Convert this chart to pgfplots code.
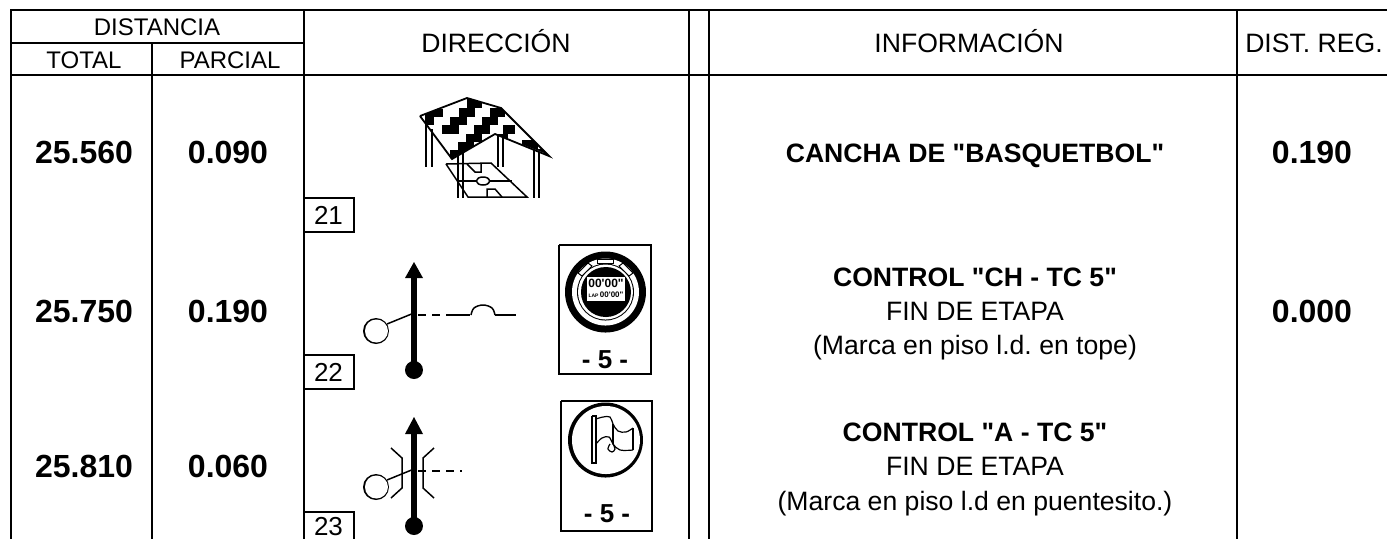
\documentclass[border=0pt]{standalone}
\usepackage{pgfplots}
\pgfplotsset{compat=1.18}
\usepackage{fontspec}
\setmainfont{Liberation Sans}[Ligatures=TeXOff]
\frenchspacing
\newcommand{\Ln}[2]{\addplot[black,line width=#1,line cap=butt] coordinates {#2};}
\newcommand{\Sm}[2]{\addplot[black,line width=#1,smooth,tension=0.6] coordinates {#2};}
\newcommand{\Fl}[1]{\addplot[fill=black,draw=none] coordinates {#1} -- cycle;}
\newcommand{\Wh}[1]{\addplot[fill=white,draw=none] coordinates {#1} -- cycle;}
\newcommand{\Bx}[4]{\addplot[fill=black,draw=none] coordinates {(#1,#2)(#3,#2)(#3,#4)(#1,#4)} -- cycle;}
% disc: x, integer y, diameter, colour
\newcommand{\Dk}[4]{\addplot[#4,line width=#3pt,line cap=round] coordinates {(#1,#2)(#1,#2.02)};}
\newcommand{\Tx}[4]{\node[anchor=base,inner sep=0pt] at (axis cs:#1,#2) {\fontsize{#3}{#3}\selectfont #4};}
\begin{document}
\begin{tikzpicture}
\path[use as bounding box] (0pt,0pt) rectangle (1387pt,539pt);
\begin{axis}[
  at={(0pt,0pt)},anchor=south west,
  scale only axis,width=1387pt,height=539pt,
  xmin=0,xmax=1387,ymin=0,ymax=539,y dir=reverse,
  hide axis,clip=true]
% table rules
\Ln{2}{(10,10)(1387,10)}
\Ln{1.8}{(11,43)(304,43)}
\Ln{2}{(10,75)(1387,75)}
\Ln{2}{(11,9)(11,539)}
\Ln{2}{(152,43)(152,539)}
\Ln{2}{(304,9)(304,539)}
\Ln{2}{(689,9)(689,539)}
\Ln{2}{(709,9)(709,539)}
\Ln{2}{(1237,9)(1237,539)}
% number boxes
\Ln{1.8}{(304,198)(354,198)(354,232)(304,232)}
\Ln{1.8}{(304,355)(354,355)(354,389)(304,389)}
\Ln{1.8}{(304,512)(354,512)(354,539)}
% roof blocks
\Bx{425}{109}{443}{117}
\Bx{425}{117}{434}{125}
\Bx{467}{98}{482}{108}
\Bx{459}{108}{475}{117}
\Bx{450}{117}{467}{125}
\Bx{442}{125}{459}{134}
\Bx{490}{108}{505}{117}
\Bx{482}{117}{498}{125}
\Bx{474}{125}{490}{134}
\Bx{466}{134}{482}{142}
\Bx{458}{142}{474}{150}
\Bx{450}{150}{466}{159}
\Bx{503}{125}{515}{134}
\Bx{497}{134}{508}{142}
\Bx{522}{140}{538}{149}
\Bx{533}{149}{549}{156}
% mask around roof
\Wh{(420,116)(415,116)(415,92)(556,92)(556,162)(415,162)(415,116)(420,116)(451,159)(495,134)(549,155)(501,108)(467,98)}
\Ln{1.8}{(420,116)(467,98)(501,108)(549,156)(495,134)(452,159)(420,116)}
% posts
\Ln{1.6}{(426,123)(426,167)}\Ln{1.6}{(432,129)(432,167)}
\Ln{1.6}{(458,155)(458,198)}\Ln{1.6}{(463,153)(463,198)}
\Ln{1.6}{(498,135)(498,167)}\Ln{1.6}{(503,137)(503,167)}
\Ln{1.6}{(534,150)(534,198)}\Ln{1.6}{(539,152)(539,198)}
% court
\Ln{1.5}{(446,164)(491,163)(527,197)(468,197)(446,164)}
\Ln{1.5}{(458,181)(476,181)}\Ln{1.5}{(490,181)(512,181)}
\Sm{1.5}{(476.5,181)(478.5,178)(483,177)(487.5,178)(489.5,181)(487.5,184)(483,185)(478.5,184)(476.5,181)}
\Ln{1.5}{(467,164)(475,172)(481,172)(481,163)}
\Ln{1.5}{(487,197)(487,189)(495,189)(502,197)}
% row 22 direction
\Ln{6.5}{(414,270)(414,370)}
\Fl{(414,262)(405,278)(423,278)}
\Dk{414}{370}{18}{black}
\Dk{376}{331}{26}{black}
\Dk{376}{331}{23}{white}
\Ln{1.5}{(387,324)(414,313)}
\addplot[black,line width=1.5,dash pattern=on 8pt off 6pt] coordinates {(418,315)(450,315)};
\Ln{1.5}{(450,315)(470,315)}
\Sm{1.5}{(471,315)(474,308)(483,305)(492,308)(495,315)}
\Ln{1.5}{(495,315)(516,315)}
% row 22 stopwatch
\Ln{1.8}{(559,245)(651,245)(651,374)(559,374)(559,245)}
\Dk{605.5}{292}{81}{black}
\Dk{605.5}{292}{67}{white}
\Dk{605.5}{292}{57}{black}
\Dk{605.5}{292}{55}{white}
\Dk{605.5}{292}{50}{black}
\Wh{(587,277)(625,277)(625,301)(587,301)}
\addplot[fill=white,draw=black,line width=1] coordinates {(597,263)(597,259)(613,259)(613,263)} -- cycle;
\addplot[fill=white,draw=black,line width=1] coordinates {(578,273)(588,263)(592,266)(582,276)} -- cycle;
\addplot[fill=white,draw=black,line width=1] coordinates {(633,273)(623,263)(619,266)(629,276)} -- cycle;
\Tx{606}{287}{12}{\bfseries 00'00"}
\Tx{606}{297}{8}{\bfseries \fontsize{5}{5}\selectfont LAP \fontsize{8}{8}\selectfont 00'00"}
\Tx{605}{368}{26}{\bfseries - 5 -}
% row 23 direction
\Ln{6.5}{(414,425)(414,526)}
\Fl{(414,417)(405,434)(423,434)}
\Dk{414}{526}{18}{black}
\Dk{376}{487}{26}{black}
\Dk{376}{487}{23}{white}
\Ln{1.5}{(387,480)(414,469)}
\addplot[black,line width=1.5,dash pattern=on 8pt off 6pt] coordinates {(418,471)(462,471)};
\Ln{1.5}{(391,448)(402,458)(402,488)(391,498)}
\Ln{1.5}{(434,448)(423,458)(423,488)(434,498)}
% row 23 flag
\Ln{1.8}{(561,401)(652,401)(652,531)(561,531)(561,401)}
\Dk{605.5}{440}{75}{black}
\Dk{605.5}{440}{68}{white}
\Ln{1.2}{(592,416)(592,463)(596,463)(596,416)(592,416)}
\Sm{1.2}{(596,419)(603,417)(610,417)(613,424)(618,431)(626,432)(633,428)}
\Sm{1.2}{(596,444)(602,438)(609,437)(613,444)(620,450)(633,450)}
\Ln{1.2}{(633,428)(633,450)}
\Ln{1.2}{(613,424)(613,444)}
\Sm{1.2}{(610,444)(608,449)(612,452)(615,449)(613,444)}
\Tx{607}{522}{26}{\bfseries - 5 -}
% header text
\Tx{157}{35}{24}{DISTANCIA}
\Tx{84}{68}{24}{TOTAL}
\Tx{230}{68}{24}{PARCIAL}
\Tx{496}{52}{26.6}{DIRECCIÓN}
\Tx{969}{52}{26.6}{INFORMACIÓN}
\Tx{1314}{52}{26.6}{DIST. REG.}
% row numbers
\Tx{328.5}{224}{26}{21}
\Tx{328.5}{381}{26}{22}
\Tx{328.5}{535.5}{26}{23}
% values
\Tx{84}{163}{32}{\bfseries 25.560}
\Tx{228}{163}{32}{\bfseries 0.090}
\Tx{1312}{163}{32}{\bfseries 0.190}
\Tx{84}{322}{32}{\bfseries 25.750}
\Tx{228}{322}{32}{\bfseries 0.190}
\Tx{1312}{322}{32}{\bfseries 0.000}
\Tx{84}{477}{32}{\bfseries 25.810}
\Tx{228}{477}{32}{\bfseries 0.060}
% information
\Tx{975}{162}{26.6}{\bfseries CANCHA DE "BASQUETBOL"}
\Tx{975}{286}{26.6}{\bfseries CONTROL "CH - TC 5"}
\Tx{975}{320}{26.6}{FIN DE ETAPA}
\Tx{975}{354}{26.6}{(Marca en piso l.d. en tope)}
\Tx{975}{441}{26.6}{\bfseries CONTROL "A - TC 5"}
\Tx{975}{475}{26.6}{FIN DE ETAPA}
\Tx{975}{510}{26.6}{(Marca en piso l.d en puentesito.)}
\end{axis}
\end{tikzpicture}
\end{document}
